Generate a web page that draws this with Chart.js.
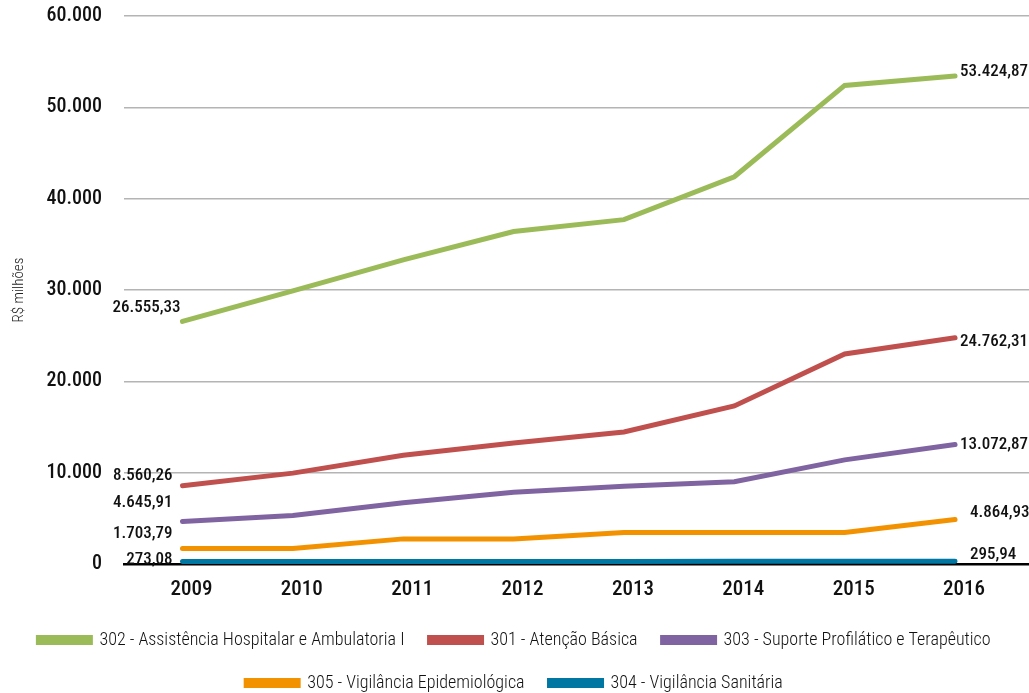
<!DOCTYPE html>
<html>
<head>
<meta charset="utf-8">
<script src="https://cdn.jsdelivr.net/npm/chart.js@4/dist/chart.umd.min.js"></script>
<style>
  html, body { margin: 0; padding: 0; background: #fff; }
  #wrap { width: 1029px; height: 693px; }
</style>
</head>
<body>
<div id="wrap"><canvas id="gastos"></canvas></div>
<script>
const years = ['2009', '2010', '2011', '2012', '2013', '2014', '2015', '2016'];

const seriesNames = [
    '302 - Assistência Hospitalar e Ambulatoria I',
    '301 - Atenção Básica',
    '303 - Suporte Profilático e Terapêutico',
    '305 - Vigilância Epidemiológica',
    '304 - Vigilância Sanitária'
];

// R$ milhões por ano
const hospitalar = [26555.33, 29900, 33300, 36400, 37700, 42400, 52400, 53424.87];
const atencaoBasica = [8560.26, 9950, 11900, 13250, 14450, 17300, 23000, 24762.31];
const profilatico = [4645.91, 5300, 6700, 7850, 8500, 9000, 11400, 13072.87];
const epidemiologica = [1703.79, 1710, 2750, 2750, 3450, 3450, 3450, 4864.93];
const sanitaria = [273.08, 275, 280, 283, 287, 290, 293, 295.94];

const yTicks = [0, 10000, 20000, 30000, 40000, 50000, 60000];

const colors = ['#9bbb59', '#c0504d', '#8064a2', '#f39200', '#0076a3'];

// where the first/last value labels sit relative to their point
const leftLabelShift = [[-2, -14], [-10, -10], [-10, -19], [-10, -15], [-10, -2]];
const rightLabelShift = [[5, -4], [5, 4], [5, 0], [15, -7], [15, -7]];

const FONT = "'Roboto Condensed', 'DejaVu Sans Condensed', sans-serif";

function fmtBR(v, decimals) {
    let parts = v.toFixed(decimals).split('.');
    parts[0] = parts[0].replace(/\B(?=(\d{3})+(?!\d))/g, '.');
    return decimals ? parts[0] + ',' + parts[1] : parts[0];
}

const allSeries = [hospitalar, atencaoBasica, profilatico, epidemiologica, sanitaria];

const endLabels = {
    id: 'endLabels',
    afterDatasetsDraw(chart) {
        let ctx = chart.ctx;
        ctx.save();
        ctx.font = '500 17px ' + FONT;
        ctx.fillStyle = '#111';
        ctx.textBaseline = 'middle';
        chart.data.datasets.forEach((ds, i) => {
            let pts = chart.getDatasetMeta(i).data;
            let vals = allSeries[i];
            let first = pts[0], last = pts[pts.length - 1];
            ctx.textAlign = 'right';
            ctx.fillText(fmtBR(vals[0], 2), first.x + leftLabelShift[i][0], first.y + leftLabelShift[i][1]);
            ctx.textAlign = 'left';
            ctx.fillText(fmtBR(vals[vals.length - 1], 2), last.x + rightLabelShift[i][0], last.y + rightLabelShift[i][1]);
        });
        ctx.restore();
    }
};

let ctx = document.getElementById('gastos').getContext('2d');
new Chart(ctx, {
    type: 'line',
    data: {
        datasets: allSeries.map((vals, i) => ({
            label: seriesNames[i],
            data: vals.map((v, k) => ({ x: k, y: v })),
            borderColor: colors[i],
            backgroundColor: colors[i],
            borderWidth: 5,
            borderCapStyle: 'round',
            pointRadius: 0,
            tension: 0
        }))
    },
    options: {
        responsive: true,
        maintainAspectRatio: false,
        animation: false,
        layout: { padding: { top: 0, left: 0, right: 0, bottom: -9 } },
        plugins: {
            tooltip: { enabled: false },
            legend: {
                position: 'bottom',
                labels: {
                    color: '#111',
                    font: { family: FONT, size: 18, weight: 300 },
                    boxWidth: 52,
                    boxHeight: 5,
                    padding: 25
                }
            }
        },
        scales: {
            x: {
                type: 'linear',
                min: -0.53,
                max: 7.67,
                afterBuildTicks: scale => {
                    scale.ticks = years.map((_, k) => ({ value: k }));
                },
                afterFit: scale => { scale.height = 42; },
                grid: { display: false, drawTicks: false },
                border: { color: '#000', width: 2.5 },
                ticks: {
                    color: '#111',
                    font: { family: FONT, size: 21, weight: 500 },
                    padding: 13,
                    labelOffset: 9,
                    callback: v => years[v]
                }
            },
            y: {
                min: 0,
                max: 60000,
                afterBuildTicks: scale => {
                    scale.ticks = yTicks.map(v => ({ value: v }));
                },
                afterFit: scale => {
                    scale.width = 124;
                    scale.paddingTop = 16;
                    scale.paddingBottom = 0;
                },
                grid: { color: '#b4b4b4', lineWidth: 1.5, drawTicks: false },
                border: { display: false },
                ticks: {
                    color: '#111',
                    font: { family: FONT, size: 20, weight: 500 },
                    padding: 22,
                    callback: v => fmtBR(v, 0)
                },
                title: {
                    display: true,
                    text: 'R$ milhões',
                    color: '#222',
                    font: { family: FONT, size: 15, weight: 300 },
                    padding: { top: 10, bottom: 0 }
                }
            }
        }
    },
    plugins: [endLabels]
});
</script>
</body>
</html>
